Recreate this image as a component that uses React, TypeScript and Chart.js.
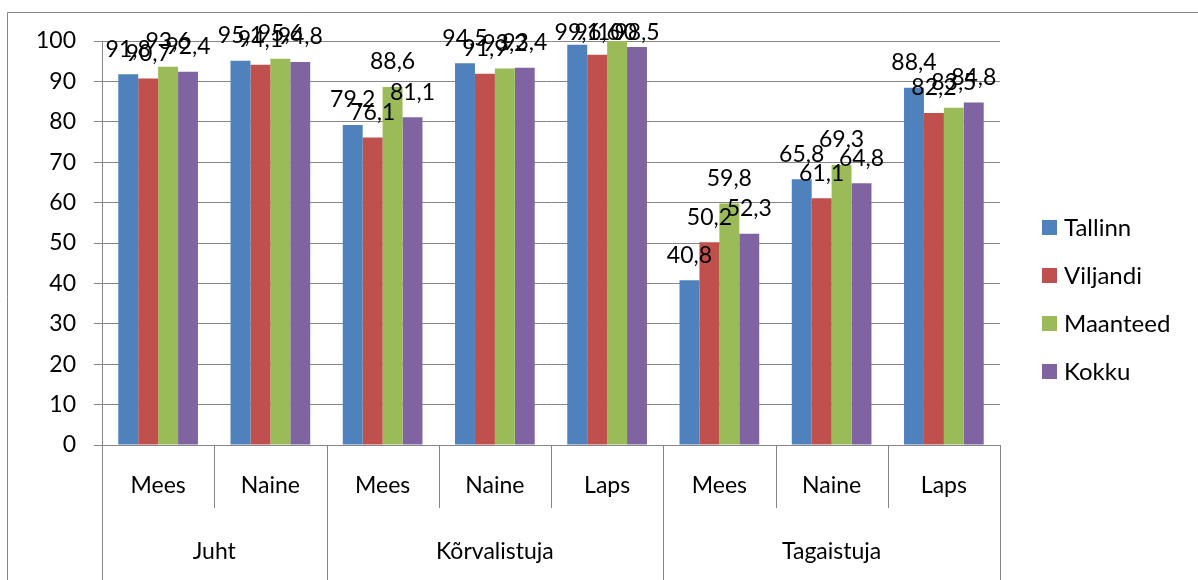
import React, { useEffect, useRef } from "react";
import { Chart, registerables } from "chart.js";

Chart.register(...registerables);

const subLabels = ["Mees", "Naine", "Mees", "Naine", "Laps", "Mees", "Naine", "Laps"];
const groupLabels = ["Juht", "Kõrvalistuja", "Tagaistuja"];
const groupSizes = [2, 3, 3];

const seriesNames = ["Tallinn", "Viljandi", "Maanteed", "Kokku"];
const seriesColors = ["#4F81BD", "#C0504D", "#9BBB59", "#8064A2"];

const tallinn = [91.8, 95.1, 79.2, 94.5, 99.1, 40.8, 65.8, 88.4];
const viljandi = [90.7, 94.1, 76.1, 91.9, 96.6, 50.2, 61.1, 82.2];
const maanteed = [93.6, 95.6, 88.6, 93.2, 100, 59.8, 69.3, 83.5];
const kokku = [92.4, 94.8, 81.1, 93.4, 98.5, 52.3, 64.8, 84.8];

const yTicks = [0, 10, 20, 30, 40, 50, 60, 70, 80, 90, 100];

const FONT = "Lato, 'Open Sans', sans-serif";
const GRID = "#868686";

function fmt(v: number): string {
  return Number.isInteger(v) ? String(v) : v.toFixed(1).replace(".", ",");
}

const overlayPlugin = {
  id: "overlay",
  afterDatasetsDraw(chart: any) {
    const ctx = chart.ctx;
    ctx.save();
    // data labels (kept inside the frame, like the original)
    ctx.font = `23px ${FONT}`;
    ctx.fillStyle = "#000";
    ctx.textAlign = "center";
    ctx.textBaseline = "middle";
    chart.data.datasets.forEach((ds: any, di: number) => {
      const meta = chart.getDatasetMeta(di);
      meta.data.forEach((el: any, i: number) => {
        ctx.fillText(fmt(ds.data[i]), el.x, Math.max(el.y - 25, 33));
      });
    });
    ctx.restore();
  },
  afterDraw(chart: any) {
    const ctx = chart.ctx;
    const area = chart.chartArea;
    const xs = chart.scales.x;
    const n = subLabels.length;
    const cw = (area.right - area.left) / n;
    const bottom = area.bottom;
    ctx.save();
    // outer frame
    ctx.strokeStyle = GRID;
    ctx.lineWidth = 1;
    ctx.beginPath();
    ctx.moveTo(7.5, chart.height);
    ctx.lineTo(7.5, 12.5);
    ctx.lineTo(chart.width, 12.5);
    ctx.stroke();

    // category separators
    const groupBounds = new Set<number>();
    let acc = 0;
    groupBounds.add(0);
    groupSizes.forEach((s) => {
      acc += s;
      groupBounds.add(acc);
    });
    for (let i = 0; i <= n; i++) {
      const x = Math.round(area.left + i * cw) + 0.5;
      const isGroup = groupBounds.has(i);
      ctx.beginPath();
      ctx.moveTo(x, bottom);
      ctx.lineTo(x, isGroup ? chart.height : 508);
      ctx.stroke();
    }
    // inner labels
    ctx.fillStyle = "#000";
    ctx.font = `23px ${FONT}`;
    ctx.textAlign = "center";
    ctx.textBaseline = "middle";
    subLabels.forEach((lab, i) => {
      ctx.fillText(lab, xs.getPixelForValue(i), 486);
    });
    // group labels
    let start = 0;
    groupLabels.forEach((g, gi) => {
      const end = start + groupSizes[gi];
      const cx = area.left + ((start + end) / 2) * cw;
      ctx.fillText(g, cx, 552);
      start = end;
    });

    // legend
    ctx.textAlign = "left";
    ctx.font = `24px ${FONT}`;
    chart.data.datasets.forEach((ds: any, di: number) => {
      const cy = 227 + di * 48;
      ctx.fillStyle = ds.backgroundColor;
      ctx.fillRect(1042, cy - 7, 15, 15);
      ctx.fillStyle = "#000";
      ctx.fillText(ds.label, 1064, cy + 1);
    });
    ctx.restore();
  },
};

export default function App() {
  const ref = useRef<HTMLCanvasElement | null>(null);
  useEffect(() => {
    if (!ref.current) return;
    const seriesData = [tallinn, viljandi, maanteed, kokku];
    const chart = new Chart(ref.current, {
      type: "bar",
      data: {
        labels: subLabels,
        datasets: seriesNames.map((name, i) => ({
          label: name,
          data: seriesData[i],
          backgroundColor: seriesColors[i],
          borderWidth: 0,
          categoryPercentage: 0.71,
          barPercentage: 1,
        })),
      },
      options: {
        responsive: false,
        animation: false,
        layout: { padding: { left: 7, right: 198, top: 41, bottom: 135 } },
        plugins: {
          legend: { display: false },
          tooltip: { enabled: false },
        },
        scales: {
          x: { display: false },
          y: {
            min: 0,
            max: 100,
            afterFit: (s: any) => {
              s.width = 95;
            },
            afterBuildTicks: (s: any) => {
              s.ticks = yTicks.map((v) => ({ value: v }));
            },
            ticks: {
              color: "#000",
              font: { family: FONT, size: 23 },
              padding: 18,
            },
            grid: { color: GRID, lineWidth: 1, tickLength: 8 },
            border: { display: true, color: GRID },
          },
        },
      },
      plugins: [overlayPlugin],
    });
    return () => chart.destroy();
  }, []);
  return (
    <div style={{ position: "fixed", left: 0, top: 0, width: 1198, height: 580, background: "#fff" }}>
      <canvas ref={ref} width={1198} height={580} style={{ display: "block" }} />
    </div>
  );
}
